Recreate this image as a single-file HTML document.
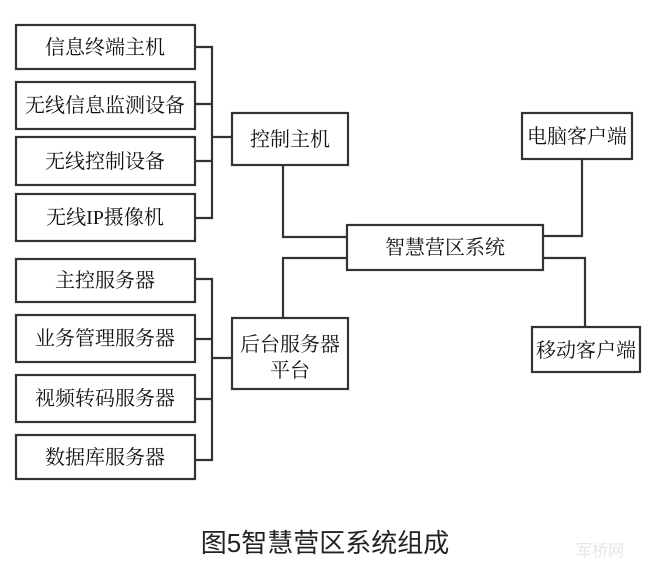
<!DOCTYPE html>
<html><head><meta charset="utf-8"><style>
html,body{margin:0;padding:0;background:#fff;}
svg{display:block;}
text{font-family:"Liberation Serif","Noto Serif CJK SC",serif;font-size:20px;fill:#111;text-anchor:middle;}
</style></head><body>
<svg width="650" height="576" viewBox="0 0 650 576" xmlns="http://www.w3.org/2000/svg">
<g fill="none" stroke="#333" stroke-width="2.2">
<rect x="16" y="25" width="179" height="44"/>
<rect x="16" y="82" width="179" height="47"/>
<rect x="16" y="137" width="179" height="48"/>
<rect x="16" y="194" width="179" height="47"/>
<rect x="16" y="259" width="179" height="43"/>
<rect x="16" y="315" width="179" height="47"/>
<rect x="16" y="375" width="179" height="47"/>
<rect x="16" y="435" width="179" height="44"/>
<rect x="232" y="113" width="116" height="52"/>
<rect x="232" y="318" width="116" height="71"/>
<rect x="347" y="225" width="196" height="45"/>
<rect x="522" y="113" width="110" height="46"/>
<rect x="532" y="327" width="108" height="45"/>
<path d="M195 47H212V218H195M195 104H212M195 161H212M212 137H232"/>
<path d="M195 279H212V460H195M195 339H212M195 399H212M212 358H232"/>
<path d="M283 165V237H347M283 318V258H347"/>
<path d="M582 159V236H543M543 258H585V327"/>
</g>
<text x="105" y="54">信息终端主机</text>
<text x="105" y="112">无线信息监测设备</text>
<text x="105" y="168">无线控制设备</text>
<text x="105" y="224">无线IP摄像机</text>
<text x="105" y="287">主控服务器</text>
<text x="105" y="345">业务管理服务器</text>
<text x="105" y="405">视频转码服务器</text>
<text x="105" y="464">数据库服务器</text>
<text x="290" y="146">控制主机</text>
<text x="290" y="351">后台服务器</text>
<text x="290" y="377">平台</text>
<text x="445" y="254">智慧营区系统</text>
<text x="577" y="143">电脑客户端</text>
<text x="586" y="357">移动客户端</text>
<text x="325" y="552" style="font-family:'Liberation Sans','Noto Sans CJK SC',sans-serif;font-size:26px;fill:#222">图5智慧营区系统组成</text>
<text x="600" y="556" style="font-family:'Liberation Sans','Noto Sans CJK SC',sans-serif;font-size:16px;fill:#e6e6e6">军桥网</text>
</svg>
</body></html>
